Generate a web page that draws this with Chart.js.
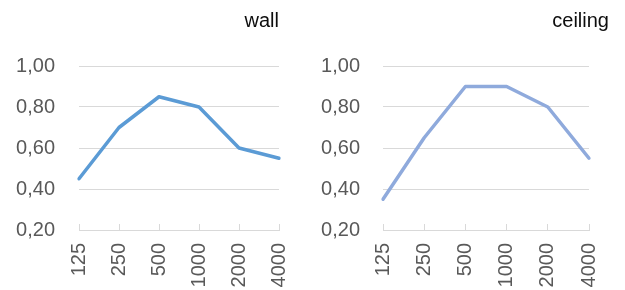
<!DOCTYPE html>
<html>
<head>
<meta charset="utf-8">
<script src="https://cdn.jsdelivr.net/npm/chart.js@4.4.1/dist/chart.umd.min.js"></script>
<style>
  html, body { margin: 0; padding: 0; background: #fff; }
  body { width: 625px; height: 290px; position: relative; overflow: hidden; font-family: "Liberation Sans", Arial, sans-serif; }
  .box { position: absolute; top: 0; height: 290px; }
  .title { position: absolute; top: 10px; line-height: 20px; font-size: 20px; color: #0d0d0d; text-align: right; font-family: "Liberation Sans", Arial, sans-serif; }
</style>
</head>
<body>
<div class="box" style="left:0;width:310px;"><canvas id="c1" width="310" height="290"></canvas></div>
<div class="box" style="left:310px;width:315px;"><canvas id="c2" width="315" height="290"></canvas></div>
<div class="title" id="t1" style="left:0;width:279px;"></div>
<div class="title" id="t2" style="left:310px;width:299px;"></div>
<script>
const categories = ["125", "250", "500", "1000", "2000", "4000"];
const wallValues = [0.45, 0.70, 0.85, 0.80, 0.60, 0.55];
const ceilingValues = [0.35, 0.65, 0.90, 0.90, 0.80, 0.55];
const titles = ["wall", "ceiling"];
const yMin = 0.2, yMax = 1.0, yStep = 0.2;

document.getElementById('t1').textContent = titles[0];
document.getElementById('t2').textContent = titles[1];

const gridColor = '#D9D9D9';
const tickColor = '#595959';
const font = { family: '"Liberation Sans", Arial, sans-serif', size: 20 };

function makeChart(id, values, color, yWidth, yPad, padRight) {
  return new Chart(document.getElementById(id), {
    type: 'line',
    data: {
      labels: categories,
      datasets: [{
        data: values,
        borderColor: color,
        borderWidth: 3.5,
        pointRadius: 0,
        tension: 0,
        fill: false,
        borderJoinStyle: 'round',
        borderCapStyle: 'round'
      }]
    },
    options: {
      responsive: false,
      animation: false,
      devicePixelRatio: 1,
      layout: { padding: { left: 0, right: padRight, top: 66, bottom: 0 } },
      plugins: { legend: { display: false }, tooltip: { enabled: false }, title: { display: false } },
      scales: {
        x: {
          type: 'category',
          offset: false,
          grid: { display: true, drawOnChartArea: false, drawTicks: true, tickLength: -6, color: gridColor, lineWidth: 1 },
          border: { display: true, color: gridColor, width: 1 },
          ticks: { color: tickColor, font: font, minRotation: 90, maxRotation: 90, padding: 19, autoSkip: false },
          afterFit: s => { s.height = 60; s.paddingLeft = 0; s.paddingRight = 0; }
        },
        y: {
          min: yMin, max: yMax,
          grid: { color: gridColor, lineWidth: 1, drawTicks: false },
          border: { display: false },
          ticks: {
            stepSize: yStep, color: tickColor, font: font, padding: yPad,
            callback: v => v.toFixed(2).replace('.', ',')
          },
          afterFit: s => { s.width = yWidth; s.paddingTop = 0; s.paddingBottom = 0; }
        }
      }
    }
  });
}

makeChart('c1', wallValues, '#5B9BD5', 79, 24, 31);
makeChart('c2', ceilingValues, '#8FAADC', 73, 23, 36);
</script>
</body>
</html>
